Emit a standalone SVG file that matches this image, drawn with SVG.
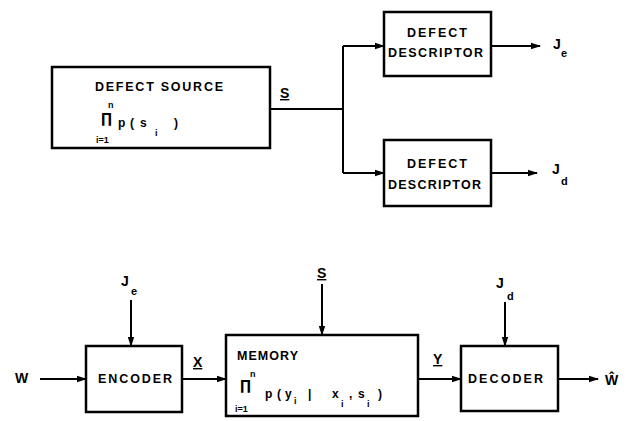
<svg xmlns="http://www.w3.org/2000/svg" width="633" height="421" viewBox="0 0 633 421">
<style>
.box{fill:#fff;stroke:#000;stroke-width:2.5}
.ln{fill:none;stroke:#000;stroke-width:2}
text{font-family:"Liberation Sans",Arial,sans-serif;font-weight:bold;fill:#000}
.lb{font-size:12.5px}
.sym{font-size:14px}
.sub{font-size:11px}
.sm{font-size:9px}
.pi{font-family:"DejaVu Sans",sans-serif;font-size:14px}
.fx{font-size:12px}
</style>
<defs>
<marker id="ah" markerWidth="10" markerHeight="8" refX="9" refY="4" orient="auto" markerUnits="userSpaceOnUse"><path d="M0,0.8 L10,4 L0,7.2 z" fill="#000"/></marker>
</defs>
<g id="connectors">
<path class="ln" d="M270,109 H343"/>
<path class="ln" d="M343,46 V173"/>
<path class="ln" d="M343,46 H384" marker-end="url(#ah)"/>
<path class="ln" d="M343,173 H384" marker-end="url(#ah)"/>
<path class="ln" d="M491,46 H540" marker-end="url(#ah)"/>
<path class="ln" d="M491,173 H537" marker-end="url(#ah)"/>
<path class="ln" d="M131,300 V346" marker-end="url(#ah)"/>
<path class="ln" d="M40,379 H86" marker-end="url(#ah)"/>
<path class="ln" d="M182,379 H226" marker-end="url(#ah)"/>
<path class="ln" d="M322,284 V335" marker-end="url(#ah)"/>
<path class="ln" d="M418,379 H461" marker-end="url(#ah)"/>
<path class="ln" d="M505,302 V346" marker-end="url(#ah)"/>
<path class="ln" d="M558,379 H598" marker-end="url(#ah)"/>
</g>
<g id="labels">
<text class="sym" x="280" y="98" text-decoration="underline">S</text>
<text class="sym" x="553" y="49">J</text><text class="sub" x="561" y="57">e</text>
<text class="sym" x="552" y="174">J</text><text class="sub" x="561" y="185">d</text>
<text class="sym" x="15" y="383">W</text>
<text class="sym" x="121" y="286">J</text><text class="sub" x="131" y="295">e</text>
<text class="sym" x="496" y="288">J</text><text class="sub" x="507" y="300">d</text>
<text class="sym" x="317" y="278" text-decoration="underline">S</text>
<text class="sym" x="193" y="367" text-decoration="underline">X</text>
<text class="sym" x="433" y="364" text-decoration="underline">Y</text>
<text class="sym" x="605" y="385">Ŵ</text>
</g>
<g id="defect-source">
<rect class="box" x="52" y="67" width="218" height="81"/>
<text class="lb" x="95" y="91" textLength="128" lengthAdjust="spacing">DEFECT SOURCE</text>
<text class="sm" x="108" y="108">n</text>
<text class="pi" x="101" y="123">∏</text>
<text class="sm" x="96" y="143">i=1</text>
<text class="fx" x="118" y="127">p</text>
<text class="fx" x="130" y="127">(</text>
<text class="fx" x="140" y="127">s</text>
<text class="sm" x="155" y="136">i</text>
<text class="fx" x="174" y="127">)</text>
</g>
<g id="defect-descriptor-1">
<rect class="box" x="384" y="12" width="107" height="64"/>
<text class="lb" x="407" y="37" textLength="60" lengthAdjust="spacing">DEFECT</text>
<text class="lb" x="388" y="57" textLength="95" lengthAdjust="spacing">DESCRIPTOR</text>
</g>
<g id="defect-descriptor-2">
<rect class="box" x="384" y="140" width="107" height="66"/>
<text class="lb" x="407" y="168" textLength="60" lengthAdjust="spacing">DEFECT</text>
<text class="lb" x="388" y="189" textLength="93" lengthAdjust="spacing">DESCRIPTOR</text>
</g>
<g id="encoder">
<rect class="box" x="86" y="346" width="96" height="66"/>
<text class="lb" x="98" y="383" textLength="74" lengthAdjust="spacing">ENCODER</text>
</g>
<g id="memory">
<rect class="box" x="226" y="335" width="192" height="81"/>
<text class="lb" x="237" y="360" textLength="61" lengthAdjust="spacing">MEMORY</text>
<text class="sm" x="250" y="377">n</text>
<text class="pi" x="240" y="390">∏</text>
<text class="sm" x="235" y="412">i=1</text>
<text class="fx" x="265" y="398">p</text>
<text class="fx" x="277" y="398">(</text>
<text class="fx" x="285" y="398">y</text>
<text class="sm" x="294" y="404">i</text>
<text class="fx" x="308" y="398">|</text>
<text class="fx" x="332" y="398">x</text>
<text class="sm" x="341" y="407">i</text>
<text class="fx" x="349" y="398">,</text>
<text class="fx" x="358" y="398">s</text>
<text class="sm" x="367" y="407">i</text>
<text class="fx" x="378" y="398">)</text>
</g>
<g id="decoder">
<rect class="box" x="461" y="346" width="97" height="65"/>
<text class="lb" x="468" y="383" textLength="75" lengthAdjust="spacing">DECODER</text>
</g>
</svg>
